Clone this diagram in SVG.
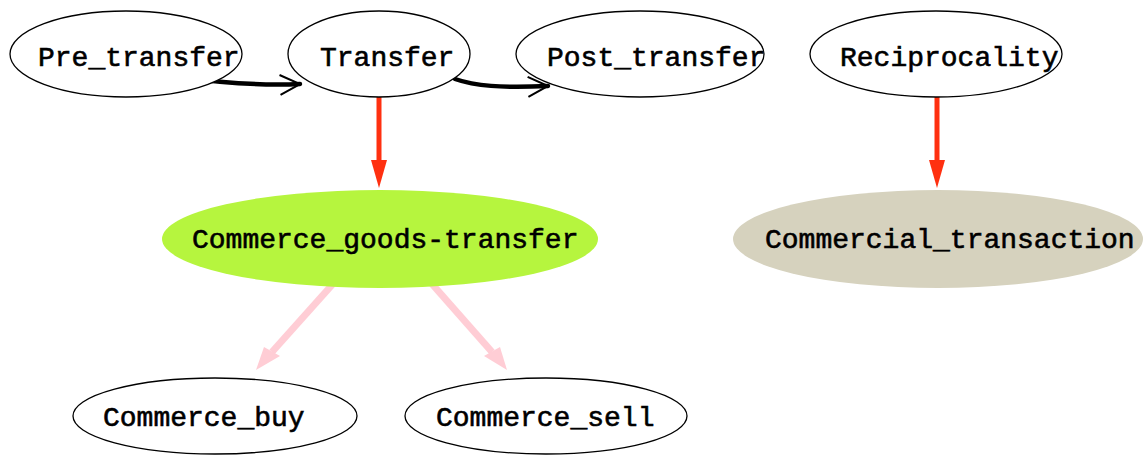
<svg xmlns="http://www.w3.org/2000/svg" width="1145" height="456" viewBox="0 0 1145 456">
<defs>
<style>
.n{fill:#fff;stroke:#000;stroke-width:1.3}
.t{font-family:"Liberation Mono",monospace;font-size:28px;fill:#000;stroke:#000;stroke-width:0.6}
.blk{fill:none;stroke:#000;stroke-width:4.5;stroke-linecap:round}
.red{stroke:#ff3010;stroke-width:5;fill:none}
.pink{stroke:#ffcdd5;stroke-width:7;fill:none}
</style>
<marker id="open" viewBox="0 0 24 24" refX="22" refY="12" markerWidth="24" markerHeight="24" markerUnits="userSpaceOnUse" orient="auto">
<path d="M2,2 L22,12 L2,22" fill="none" stroke="#000" stroke-width="2"/>
</marker>
</defs>
<rect width="1145" height="456" fill="#fff"/>
<g id="edges">
<path class="blk" d="M212,81 C235,83 260,86 300,84" marker-end="url(#open)"/>
<path class="blk" d="M455,79 C475,86 500,88 548,86" marker-end="url(#open)"/>
<line class="red" x1="379" y1="97" x2="379" y2="168"/>
<path d="M371,160 L387,160 L379,188 Z" fill="#ff3010"/>
<line class="red" x1="937" y1="97" x2="937" y2="168"/>
<path d="M929,160 L945,160 L937,188 Z" fill="#ff3010"/>
<path class="pink" d="M340,276 L272,352"/>
<path d="M264,347 L280,356 L256,370 Z" fill="#ffcdd5"/>
<path class="pink" d="M425,276 L492,352"/>
<path d="M484,356 L500,347 L507,370 Z" fill="#ffcdd5"/>
</g>
<g id="Pre_transfer"><ellipse class="n" cx="126" cy="54" rx="116" ry="43"/><text class="t" x="38" y="66">Pre_transfer</text></g>
<g id="Transfer"><ellipse class="n" cx="379" cy="54" rx="91" ry="43"/><text class="t" x="320" y="66">Transfer</text></g>
<g id="Post_transfer"><ellipse class="n" cx="640" cy="54" rx="124" ry="43"/><text class="t" x="547" y="66">Post_transfer</text></g>
<g id="Reciprocality"><ellipse class="n" cx="936" cy="54" rx="126" ry="43"/><text class="t" x="840" y="66">Reciprocality</text></g>
<g id="Commerce_goods-transfer"><ellipse cx="380" cy="239" rx="218" ry="49" fill="#b6f53e"/><text class="t" x="192" y="248">Commerce_goods-transfer</text></g>
<g id="Commercial_transaction"><ellipse cx="938" cy="239" rx="205" ry="49" fill="#d6d2be"/><text class="t" x="765" y="248">Commercial_transaction</text></g>
<g id="Commerce_buy"><ellipse class="n" cx="215" cy="416" rx="142" ry="38"/><text class="t" x="103" y="426">Commerce_buy</text></g>
<g id="Commerce_sell"><ellipse class="n" cx="546" cy="416" rx="141" ry="38"/><text class="t" x="436" y="426">Commerce_sell</text></g>
</svg>
